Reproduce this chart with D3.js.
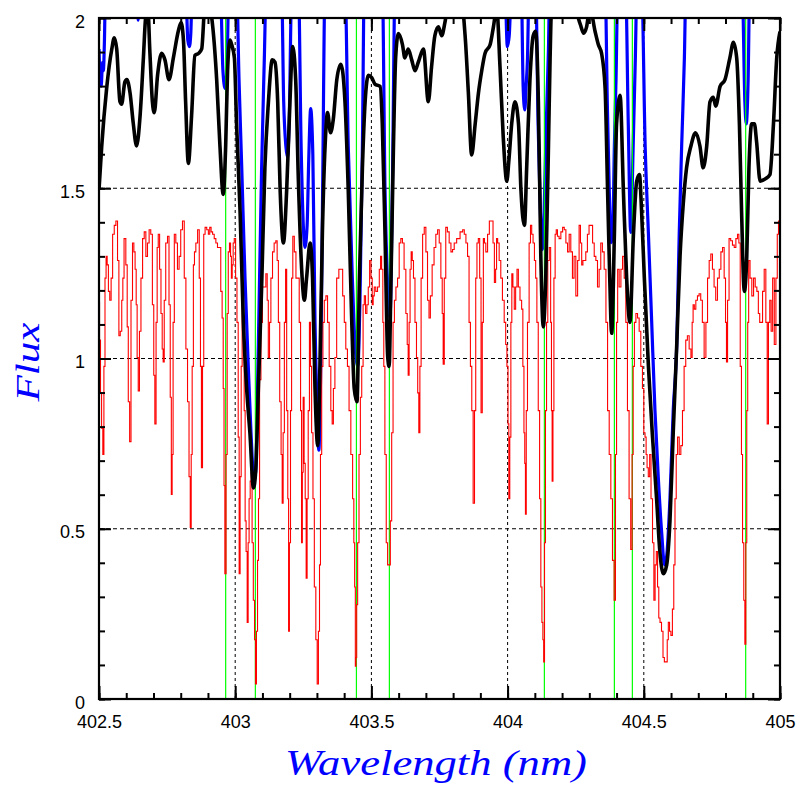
<!DOCTYPE html>
<meta charset="utf-8">
<style>
body { margin: 0; background: #fff; }
svg text.tick-label { font: 18px "Liberation Sans", Arial, sans-serif; fill: #000; }
svg text.title { font-family: "Liberation Serif", "Times New Roman", serif; font-style: italic; fill: #0000ff; }
</style>
<svg class="chart" width="797" height="797"></svg>
<script src="https://d3js.org/d3.v7.min.js"></script>
<script>

// synthetic spectrum (red, thin steps)
var redFlux = [
  [402.500,1.165],[402.504,1.054],[402.507,0.899],[402.512,0.795],[402.516,0.718],[402.520,0.977],[402.524,1.236],[402.528,1.300],
  [402.532,1.275],[402.537,1.197],[402.542,1.171],[402.547,1.236],[402.553,1.365],[402.559,1.391],[402.565,1.404],[402.571,1.288],
  [402.575,1.067],[402.581,1.080],[402.586,1.171],[402.589,1.236],[402.595,1.352],[402.602,1.275],[402.605,1.093],[402.610,0.873],
  [402.615,0.756],[402.620,1.171],[402.626,1.339],[402.630,1.313],[402.635,1.262],[402.638,1.158],[402.642,1.003],[402.646,0.905],
  [402.651,1.080],[402.657,1.236],[402.663,1.352],[402.669,1.372],[402.675,1.300],[402.681,1.339],[402.687,1.378],[402.693,1.365],
  [402.699,1.158],[402.703,0.951],[402.707,0.808],[402.712,1.106],[402.715,1.326],[402.720,1.365],[402.725,1.262],[402.730,1.132],
  [402.734,1.028],[402.737,0.990],[402.742,1.171],[402.748,1.339],[402.755,1.359],[402.759,1.158],[402.764,0.886],[402.767,0.601],
  [402.770,0.718],[402.774,1.106],[402.779,1.365],[402.785,1.339],[402.791,1.262],[402.797,1.300],[402.803,1.378],[402.810,1.404],
  [402.816,1.236],[402.822,1.028],[402.828,0.873],[402.833,0.653],[402.837,0.504],[402.840,0.718],[402.844,0.977],[402.849,1.275],
  [402.852,1.313],[402.859,1.339],[402.865,1.378],[402.871,1.236],[402.874,0.977],[402.878,0.679],[402.882,0.977],[402.887,1.365],
  [402.892,1.385],[402.899,1.378],[402.904,1.365],[402.909,1.385],[402.914,1.372],[402.920,1.365],[402.926,1.352],[402.932,1.339],
  [402.938,1.326],[402.944,1.326],[402.950,1.197],[402.954,1.119],[402.958,0.912],[402.960,0.627],[402.964,0.368],[402.969,0.718],
  [402.972,1.132],[402.977,1.313],[402.981,1.339],[402.985,1.300],[402.987,1.236],[402.991,1.275],[402.994,1.339],[402.999,1.352],
  [403.004,1.236],[403.009,1.106],[403.013,0.769],[403.016,0.368],[403.020,0.653],[403.024,0.977],[403.027,1.171],[403.031,1.106],
  [403.035,0.847],[403.038,0.523],[403.042,0.433],[403.046,0.225],[403.049,0.459],[403.053,0.588],[403.057,0.640],[403.060,0.666],
  [403.064,0.459],[403.069,0.290],[403.073,0.174],[403.076,0.044],[403.080,0.199],[403.084,0.407],[403.087,0.588],[403.092,0.938],
  [403.097,1.106],[403.103,1.210],
  [403.109,1.210],[403.116,1.249],[403.119,1.171],[403.124,1.003],[403.128,1.106],[403.134,1.236],[403.140,1.313],[403.146,1.339],
  [403.152,1.346],[403.156,1.288],[403.161,1.106],[403.166,0.873],[403.171,0.718],[403.174,0.575],[403.178,0.782],[403.183,1.106],
  [403.187,1.262],[403.191,0.847],[403.195,0.588],[403.197,0.199],[403.201,0.459],[403.205,0.847],[403.209,1.236],[403.214,1.359],
  [403.220,1.313],[403.226,1.236],[403.232,1.236],[403.238,1.106],[403.242,0.847],[403.245,0.459],[403.248,0.666],[403.251,0.886],
  [403.255,0.692],[403.259,0.588],[403.262,0.355],[403.266,0.588],[403.270,0.847],[403.275,1.106],[403.278,0.977],[403.283,0.782],
  [403.288,0.588],[403.293,0.329],[403.299,0.174],[403.303,0.044],[403.308,0.199],[403.311,0.394],[403.315,0.718],[403.320,0.977],
  [403.324,1.106],[403.330,1.171],[403.336,1.184],[403.342,1.106],[403.348,0.977],[403.354,0.847],[403.358,0.808],[403.363,0.912],
  [403.369,1.003],[403.376,1.236],[403.385,1.262],[403.391,1.262],[403.398,1.184],[403.403,1.106],[403.409,1.028],[403.415,0.977],
  [403.421,0.847],[403.428,0.718],[403.434,0.588],[403.437,0.459],[403.440,0.329],[403.442,0.096],[403.445,0.122],[403.447,0.277],
  [403.452,0.459],[403.457,0.718],[403.462,0.886],[403.467,0.977],[403.472,1.158],[403.476,1.184],[403.481,1.132],[403.486,1.158],
  [403.491,1.210],[403.496,1.288],[403.501,1.236],[403.505,1.158],[403.508,1.184],[403.513,1.210],[403.519,1.197],[403.526,1.210],
  [403.532,1.262],[403.535,1.300],[403.540,1.262],[403.544,1.106],[403.547,0.977],[403.552,0.718],[403.557,0.459],[403.562,0.394],
  [403.567,0.394],[403.572,0.523],[403.577,0.782],[403.582,1.106],[403.587,1.171],[403.593,1.210],[403.599,1.236],[403.605,1.339],
  [403.611,1.352],[403.617,1.339],[403.623,1.262],[403.630,1.132],[403.633,1.041],[403.637,0.951],[403.640,1.106],[403.644,1.262],
  [403.648,1.313],[403.652,1.288],[403.657,1.236],[403.663,1.106],[403.668,1.003],[403.672,0.899],[403.676,0.782],[403.680,0.977],
  [403.685,1.236],[403.691,1.365],[403.697,1.385],[403.703,1.313],[403.709,1.171],[403.714,1.119],[403.719,1.184],[403.727,1.275],
  [403.733,1.326],[403.740,1.365],[403.746,1.378],[403.752,1.339],[403.758,1.236],[403.762,1.132],[403.765,0.983],[403.770,1.236],
  [403.776,1.385],[403.782,1.372],[403.789,1.339],[403.795,1.313],[403.801,1.320],[403.807,1.339],[403.819,1.352],[403.832,1.372],
  [403.838,1.378],[403.844,1.365],[403.850,1.339],[403.856,1.300],[403.861,1.106],[403.866,0.977],[403.871,0.847],[403.876,0.575],
  [403.881,0.847],[403.885,1.236],[403.890,1.339],[403.895,1.352],[403.900,1.236],[403.905,0.841],[403.909,1.106],[403.913,1.352],
  [403.917,1.339],[403.923,1.313],[403.930,1.365],[403.936,1.404],[403.944,1.404],[403.949,1.339],[403.954,1.223],[403.958,1.262],
  [403.961,1.352],[403.966,1.339],[403.972,1.288],[403.978,1.236],[403.984,1.171],[403.991,1.106],[403.995,1.041],[404.000,0.977],
  [404.003,0.808],[404.006,0.588],[404.010,0.769],[404.014,1.106],[404.017,1.249],[404.022,1.210],[404.027,1.145],[404.032,1.210],
  [404.037,1.262],[404.042,1.210],[404.049,1.171],[404.054,1.145],[404.058,0.977],[404.062,0.782],[404.064,0.692],[404.067,0.543],
  [404.070,0.847],[404.076,1.106],[404.082,1.339],[404.086,1.391],[404.091,1.365],[404.096,1.339],[404.101,1.288],[404.105,1.236],
  [404.110,1.106],[404.115,0.847],[404.120,0.588],[404.124,0.329],[404.128,0.225],[404.131,0.174],[404.134,0.109],[404.137,0.459],
  [404.141,0.847],[404.145,1.106],[404.150,1.288],[404.156,1.326],[404.160,1.106],[404.162,0.847],[404.165,0.640],[404.168,0.847],
  [404.172,1.236],[404.177,1.365],[404.180,1.378],[404.186,1.359],[404.192,1.352],[404.199,1.372],[404.205,1.385],[404.211,1.378],
  [404.217,1.339],[404.223,1.313],[404.229,1.365],[404.235,1.313],[404.241,1.236],[404.247,1.300],[404.254,1.184],[404.260,1.288],
  [404.265,1.391],[404.270,1.339],[404.274,1.275],[404.279,1.288],[404.284,1.288],[404.290,1.313],[404.296,1.365],[404.302,1.391],
  [404.309,1.391],[404.315,1.339],[404.321,1.300],[404.327,1.288],[404.333,1.210],[404.339,1.262],[404.345,1.339],[404.351,1.313],
  [404.358,1.262],[404.364,1.106],[404.370,0.847],[404.376,0.718],[404.382,0.588],[404.388,0.407],[404.394,0.290],[404.398,0.718],
  [404.402,1.106],[404.406,1.262],[404.413,1.210],[404.419,1.262],[404.425,1.300],[404.431,1.236],[404.437,1.106],[404.443,0.847],
  [404.449,0.588],[404.455,0.439],[404.459,0.718],[404.463,0.977],[404.468,1.106],[404.474,1.132],[404.480,1.119],[404.486,1.080],
  [404.492,0.977],[404.498,0.912],[404.502,0.782],[404.507,0.769],[404.510,0.718],[404.514,0.679],[404.519,0.653],[404.524,0.718],
  [404.529,0.588],[404.535,0.459],[404.539,0.290],[404.544,0.394],[404.548,0.433],[404.553,0.329],[404.557,0.238],[404.562,0.225],
  [404.568,0.199],[404.573,0.122],[404.578,0.109],[404.584,0.109],[404.588,0.174],[404.592,0.225],[404.597,0.199],[404.602,0.187],
  [404.608,0.264],[404.612,0.394],[404.617,0.588],[404.621,0.718],[404.627,0.769],[404.633,0.718],[404.639,0.744],[404.645,0.847],
  [404.651,0.977],[404.657,1.054],[404.663,1.067],[404.670,1.028],[404.676,1.003],[404.679,1.106],[404.683,1.158],[404.688,1.145],
  [404.694,1.171],[404.700,1.184],[404.706,1.190],[404.712,1.171],[404.718,1.106],[404.725,1.003],[404.731,1.106],[404.737,1.236],
  [404.743,1.288],[404.749,1.307],[404.755,1.262],[404.761,1.210],[404.767,1.171],[404.774,1.236],[404.780,1.262],[404.786,1.313],
  [404.792,1.326],[404.798,1.236],[404.802,1.106],[404.805,0.990],[404.810,1.171],[404.816,1.352],[404.822,1.346],[404.829,1.333],
  [404.835,1.326],[404.841,1.352],[404.847,1.365],[404.851,1.339],[404.857,0.977],[404.860,0.718],[404.865,0.459],[404.869,0.290],
  [404.873,0.161],[404.876,0.459],[404.880,0.847],[404.883,1.106],[404.887,1.288],[404.893,1.236],[404.900,1.184],[404.906,1.236],
  [404.912,1.210],[404.918,1.197],[404.923,1.132],[404.928,1.106],[404.933,1.106],[404.939,1.197],[404.945,1.262],[404.951,1.106],
  [404.955,0.808],[404.960,1.106],[404.965,1.171],[404.970,1.080],[404.976,1.236],[404.982,1.041],[404.988,1.236],[404.992,1.365],
  [404.997,1.404],[405.000,1.404]
];

// smoothed spectrum (black, thick)
var blackFlux = [
  [402.500,1.495],[402.510,1.624],[402.528,1.793],[402.547,1.909],[402.556,1.942],[402.565,1.909],[402.577,1.754],[402.583,1.747],
  [402.595,1.812],[402.602,1.819],[402.614,1.780],[402.626,1.689],[402.638,1.624],[402.651,1.715],[402.663,1.883],[402.671,2.000],
  [402.679,2.030],[402.687,1.896],[402.696,1.754],[402.703,1.722],[402.715,1.832],[402.730,1.896],[402.742,1.877],[402.757,1.819],
  [402.773,1.883],[402.791,1.961],[402.801,1.987],[402.810,1.935],[402.818,1.754],[402.828,1.573],[402.840,1.715],[402.852,1.890],
  [402.865,1.896],[402.877,1.909],[402.889,2.040],[402.901,2.050],[402.914,2.000],[402.932,1.819],[402.944,1.624],[402.956,1.482],
  [402.965,1.624],[402.972,1.845],[402.981,1.935],[402.987,1.922],[402.997,1.883],[403.005,1.689],[403.018,1.430],[403.030,1.106],
  [403.042,0.912],[403.054,0.782],[403.067,0.620],[403.075,0.666],[403.085,0.912],[403.097,1.210],[403.109,1.560],[403.122,1.754],
  [403.136,1.877],[403.146,1.870],[403.156,1.754],[403.165,1.495],[403.177,1.339],[403.189,1.495],[403.201,1.754],[403.211,1.916],
  [403.222,1.819],[403.232,1.521],[403.244,1.262],[403.254,1.171],[403.262,1.236],[403.275,1.339],[403.284,1.236],[403.293,0.912],
  [403.303,0.744],[403.311,0.977],[403.320,1.365],[403.330,1.624],[403.339,1.722],[403.350,1.663],[403.360,1.702],[403.373,1.819],
  [403.388,1.864],[403.403,1.754],[403.415,1.495],[403.428,1.106],[403.437,0.912],[403.447,0.873],[403.456,1.236],[403.467,1.560],
  [403.477,1.754],[403.489,1.832],[403.501,1.825],[403.513,1.806],[403.532,1.799],[403.540,1.689],[403.550,1.365],[403.560,1.003],
  [403.565,0.977],[403.572,1.236],[403.581,1.624],[403.589,1.883],[403.599,1.954],[403.614,1.922],[403.623,1.883],[403.635,1.909],
  [403.648,1.877],[403.660,1.845],[403.672,1.870],[403.691,1.909],[403.709,1.754],[403.721,1.858],[403.733,1.948],[403.746,1.974],
  [403.758,1.948],[403.770,1.987],[403.782,2.040],[403.832,2.040],[403.844,1.948],[403.856,1.780],[403.868,1.598],[403.881,1.689],
  [403.893,1.780],[403.905,1.845],[403.917,1.896],[403.936,1.922],[403.948,1.974],[403.960,2.030],[403.972,1.858],[403.984,1.650],
  [403.997,1.521],[404.005,1.585],[404.015,1.689],[404.027,1.754],[404.040,1.689],[404.049,1.495],[404.062,1.391],[404.070,1.560],
  [404.082,1.819],[404.094,1.948],[404.103,1.961],[404.113,1.754],[404.122,1.300],[404.131,1.093],[404.140,1.236],[404.150,1.624],
  [404.156,1.883],[404.162,2.040],[404.199,2.050],[404.235,2.050],[404.267,1.981],[404.279,1.955],[404.290,1.974],[404.302,2.030],
  [404.321,1.961],[404.333,1.922],[404.345,1.896],[404.358,1.793],[404.367,1.495],[404.375,1.236],[404.382,1.074],[404.392,1.365],
  [404.400,1.689],[404.413,1.773],[404.425,1.495],[404.437,1.236],[404.449,1.106],[404.462,1.365],[404.474,1.521],[404.484,1.540],
  [404.492,1.430],[404.502,1.236],[404.517,0.977],[404.531,0.782],[404.547,0.588],[404.559,0.433],[404.572,0.368],[404.584,0.394],
  [404.596,0.523],[404.608,0.782],[404.621,1.041],[404.633,1.300],[404.645,1.456],[404.657,1.560],[404.673,1.624],[404.690,1.663],
  [404.706,1.624],[404.718,1.560],[404.731,1.624],[404.743,1.754],[404.755,1.767],[404.764,1.741],[404.780,1.799],[404.798,1.819],
  [404.816,1.883],[404.829,1.929],[404.841,1.883],[404.851,1.689],[404.859,1.430],[404.869,1.197],[404.878,1.300],[404.886,1.560],
  [404.896,1.689],[404.906,1.689],[404.914,1.637],[404.927,1.521],[404.945,1.527],[404.963,1.540],[404.976,1.689],[404.988,1.883],
  [405.000,1.960]
];

// observed spectrum (blue, thick) -- mostly above the top of the frame
var blueFlux = [
  [402.500,1.909],[402.504,1.819],[402.508,1.800],[402.513,1.870],[402.516,1.845],[402.520,1.935],[402.524,2.100],
  [402.640,2.100],[402.644,1.994],[402.649,2.100],
  [402.818,2.100],[402.826,1.935],[402.832,1.916],[402.837,1.955],[402.843,2.100],
  [402.945,2.100],[402.955,1.845],[402.963,1.793],[402.970,1.858],[402.977,2.100],
  [403.005,2.100],[403.014,1.819],[403.024,1.560],[403.036,1.236],[403.048,0.977],[403.058,0.782],[403.068,0.653],[403.075,0.666],
  [403.085,1.041],[403.097,1.560],[403.107,1.883],[403.114,2.100],
  [403.170,2.100],[403.178,1.754],[403.186,1.624],[403.192,1.592],[403.198,1.689],[403.208,2.100],
  [403.232,2.100],[403.242,1.624],[403.250,1.391],[403.256,1.326],[403.264,1.391],[403.270,1.585],[403.277,1.734],[403.285,1.598],
  [403.293,1.106],[403.301,0.847],[403.307,0.731],[403.314,0.977],[403.321,1.495],[403.330,2.100],
  [403.403,2.100],[403.415,1.624],[403.430,1.236],[403.440,1.041],[403.450,0.977],[403.458,1.171],[403.467,1.624],[403.474,2.100],
  [403.540,2.100],[403.550,1.495],[403.560,1.210],[403.568,1.119],[403.577,1.495],[403.587,2.100],
  [403.990,2.100],[403.999,1.916],[404.006,1.948],[404.015,2.100],
  [404.050,2.100],[404.057,1.800],[404.063,1.730],[404.068,1.800],[404.073,1.880],[404.079,2.100],
  [404.103,2.100],[404.112,1.689],[404.119,1.469],[404.127,1.320],[404.134,1.430],[404.142,1.689],[404.150,1.909],[404.155,2.100],
  [404.358,2.100],[404.366,1.754],[404.373,1.500],[404.381,1.340],[404.386,1.370],[404.392,1.624],[404.398,1.819],[404.405,2.100],
  [404.433,2.100],[404.443,1.689],[404.452,1.370],[404.461,1.624],[404.469,1.883],[404.475,2.100],
  [404.492,2.100],[404.505,1.624],[404.517,1.365],[404.529,1.106],[404.541,0.847],[404.553,0.653],[404.566,0.484],[404.576,0.394],
  [404.584,0.420],[404.596,0.588],[404.608,0.847],[404.621,1.041],[404.630,1.365],[404.639,1.624],[404.649,1.883],[404.655,2.100],
  [404.861,2.100],[404.871,1.754],[404.876,1.689],[404.883,1.819],[404.889,2.100],
  [405.000,2.100]
];

// line positions (green sticks)
var lineCentres = [402.965, 403.074, 403.445, 403.566, 404.135, 404.392, 404.458, 404.874];

var xMajor = [402.5, 403, 403.5, 404, 404.5, 405];
var xMinor = d3.range(25, 51).map(function(i) { return i / 10 + 400; });
var yMajor = [0, 0.5, 1, 1.5, 2];
var yMinor = d3.range(0, 21).map(function(i) { return i / 10; });
var xGrid = [403, 403.5, 404, 404.5];
var yGrid = [0.5, 1, 1.5];

var margin = {left: 99, right: 17, top: 18, bottom: 98};
var svg = d3.select("svg.chart");
var width = +svg.attr("width") - margin.left - margin.right;
var height = +svg.attr("height") - margin.top - margin.bottom;

var x = d3.scaleLinear().domain([402.5, 405]).range([0, width]);
var y = d3.scaleLinear().domain([0, 2]).range([height, 0]);

var g = svg.append("g")
  .attr("transform", `translate(${margin.left},${margin.top})`);

g.append("clipPath").attr("id", "plot-clip")
  .append("rect").attr("width", width).attr("height", height);

var plot = g.append("g").attr("clip-path", "url(#plot-clip)");

// dashed grid
plot.selectAll("line.gx").data(xGrid).enter().append("line")
  .attr("class", "gx")
  .attr("x1", x).attr("x2", x)
  .attr("y1", 0).attr("y2", height)
  .attr("stroke", "#000").attr("stroke-width", 1).attr("stroke-dasharray", "3,3");
plot.selectAll("line.gy").data(yGrid).enter().append("line")
  .attr("class", "gy")
  .attr("y1", y).attr("y2", y)
  .attr("x1", 0).attr("x2", width)
  .attr("stroke", "#000").attr("stroke-width", 1).attr("stroke-dasharray", "4,3");

var smooth = d3.line()
  .x(function(d) { return x(d[0]); })
  .y(function(d) { return y(d[1]); })
  .curve(d3.curveMonotoneX);

var steps = d3.line()
  .x(function(d) { return x(d[0]); })
  .y(function(d) { return y(d[1]); })
  .curve(d3.curveStep);

plot.append("path").datum(blueFlux)
  .attr("d", smooth)
  .attr("fill", "none").attr("stroke", "#0000ff").attr("stroke-width", 3.2)
  .attr("stroke-linejoin", "round");

plot.selectAll("line.stick").data(lineCentres).enter().append("line")
  .attr("class", "stick")
  .attr("x1", x).attr("x2", x)
  .attr("y1", y(0)).attr("y2", y(2))
  .attr("stroke", "#00ff00").attr("stroke-width", 1.2);

plot.append("path").datum(redFlux)
  .attr("d", steps)
  .attr("fill", "none").attr("stroke", "#ff0000").attr("stroke-width", 1.1);

plot.append("path").datum(blackFlux)
  .attr("d", smooth)
  .attr("fill", "none").attr("stroke", "#000").attr("stroke-width", 3.6)
  .attr("stroke-linejoin", "round");

// ticks, inward on all four sides
function ticks(axis, values, size, labels) {
  return axis.tickValues(values).tickSize(-size)
    .tickFormat(labels ? function(d) { return String(d); } : "");
}

var bottomMinor = g.append("g").attr("transform", `translate(0,${height})`)
  .call(ticks(d3.axisBottom(x), xMinor, 6, false));
var bottomMajor = g.append("g").attr("transform", `translate(0,${height})`)
  .call(ticks(d3.axisBottom(x), xMajor, 13, true).tickPadding(16));
g.append("g").call(ticks(d3.axisTop(x), xMinor, 6, false));
g.append("g").call(ticks(d3.axisTop(x), xMajor, 13, false));

g.append("g").call(ticks(d3.axisLeft(y), yMinor, 6, false));
var leftMajor = g.append("g")
  .call(ticks(d3.axisLeft(y), yMajor, 12, true).tickPadding(14));
g.append("g").attr("transform", `translate(${width},0)`)
  .call(ticks(d3.axisRight(y), yMinor, 6, false));
g.append("g").attr("transform", `translate(${width},0)`)
  .call(ticks(d3.axisRight(y), yMajor, 12, false));

g.selectAll(".domain").remove();
g.selectAll(".tick line").attr("stroke", "#000").attr("stroke-width", 2);
g.selectAll(".tick text").attr("class", "tick-label").attr("font-family", null).attr("font-size", null);
leftMajor.selectAll("text").attr("dy", "0.5em");

// frame
g.append("rect")
  .attr("width", width).attr("height", height)
  .attr("fill", "none").attr("stroke", "#000").attr("stroke-width", 2.2);

// axis titles
svg.append("text").attr("class", "title")
  .attr("x", 436).attr("y", 775)
  .attr("text-anchor", "middle")
  .attr("font-size", 36)
  .attr("textLength", 302).attr("lengthAdjust", "spacingAndGlyphs")
  .text("Wavelength (nm)");

svg.append("text").attr("class", "title")
  .attr("transform", "translate(39,362) rotate(-90)")
  .attr("text-anchor", "middle")
  .attr("font-size", 34)
  .attr("textLength", 79).attr("lengthAdjust", "spacingAndGlyphs")
  .text("Flux");

</script>
